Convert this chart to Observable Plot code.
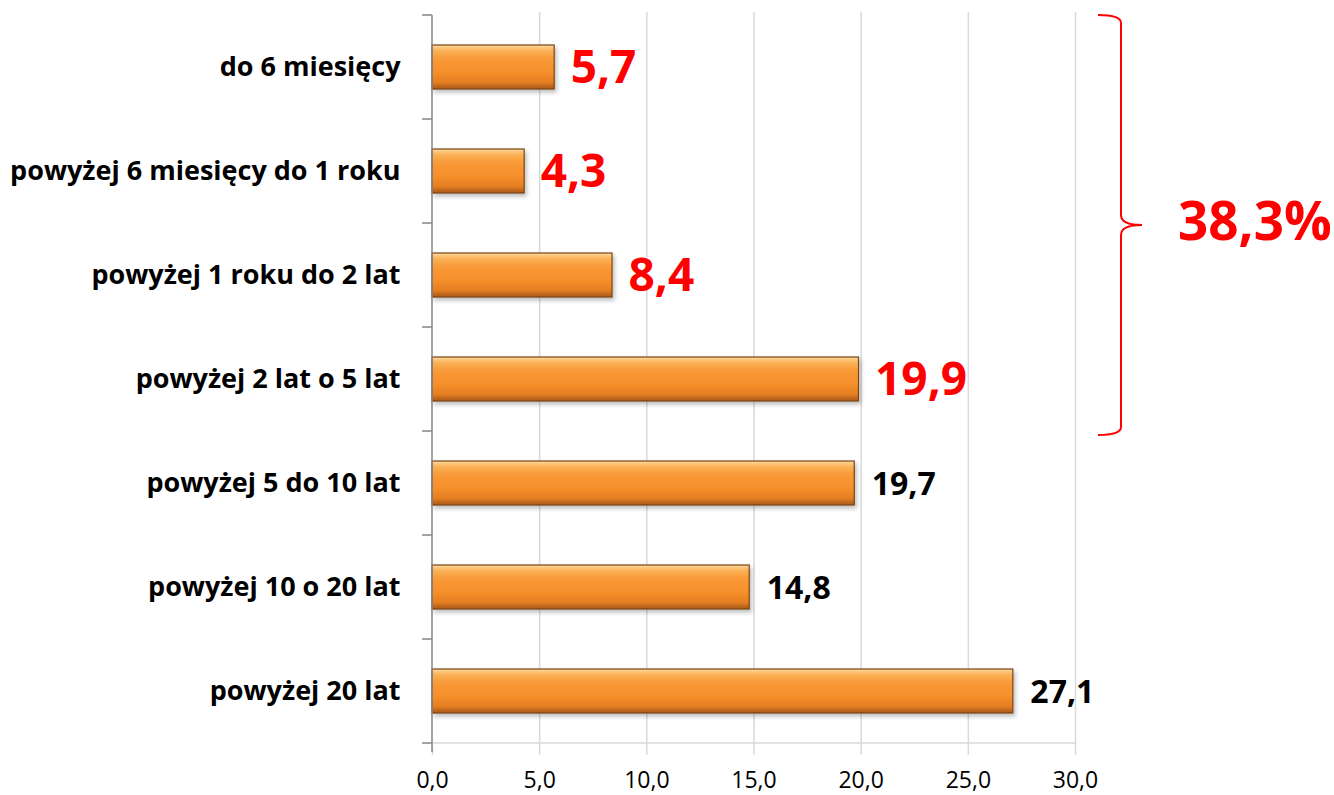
<!DOCTYPE html>
<html>
<head>
<meta charset="utf-8">
<script src="https://cdn.jsdelivr.net/npm/d3@7"></script>
<script src="https://cdn.jsdelivr.net/npm/@observablehq/plot@0.6"></script>
<style>
  html, body { margin: 0; padding: 0; background: #fff; }
  #chart { width: 1334px; height: 795px; }
</style>
</head>
<body>
<div id="chart"></div>
<script>
const categories = [
  "do 6 miesięcy",
  "powyżej 6 miesięcy do 1 roku",
  "powyżej 1 roku do 2 lat",
  "powyżej 2 lat o 5 lat",
  "powyżej 5 do 10 lat",
  "powyżej 10 o 20 lat",
  "powyżej 20 lat"
];
const values = [5.7, 4.3, 8.4, 19.9, 19.7, 14.8, 27.1];
const highlighted = [true, true, true, true, false, false, false];
const xTicks = [0, 5, 10, 15, 20, 25, 30];
const totalLabel = "38,3%";

const data = categories.map((c, i) => ({cat: c, value: values[i], hi: highlighted[i]}));
const fmt = v => v.toFixed(1).replace(".", ",");
const FONT = "'Open Sans', Lato, sans-serif";

const boundaryMark = (index, scales, vals, dims) => {
  const y = scales.y, x = scales.x;
  const step = y.step(), bw = y.bandwidth();
  const g = d3.create("svg:g");
  const first = y(categories[0]) - (step - bw) / 2;
  const x0 = x(0);
  const last = first + categories.length * step;
  g.append("line").attr("x1", x0).attr("x2", x(30)).attr("y1", last).attr("y2", last)
    .attr("stroke", "#d9d9d9").attr("stroke-width", 1.5);
  for (let i = 0; i <= categories.length; i++) {
    const yy = first + i * step;
    g.append("line").attr("x1", x0 - 10).attr("x2", x0).attr("y1", yy).attr("y2", yy)
      .attr("stroke", "#868686").attr("stroke-width", 1.5);
  }
  g.append("line").attr("x1", x0).attr("x2", x0).attr("y1", first).attr("y2", last + 9)
    .attr("stroke", "#868686").attr("stroke-width", 1.5);
  return g.node();
};

const braceMark = (index, scales) => {
  const y = scales.y, x = scales.x;
  const step = y.step(), bw = y.bandwidth();
  const nHi = highlighted.filter(Boolean).length;
  const top = y(categories[0]) - (step - bw) / 2;
  const bottom = top + nHi * step + 4;
  const mid = (top + bottom) / 2;
  const xL = x(30) + 23, xV = xL + 23, xP = xV + 21;
  const g = d3.create("svg:g");
  g.append("path")
    .attr("d", `M${xL},${top} Q${xV},${top} ${xV},${top + 8} L${xV},${mid - 10} Q${xV},${mid} ${xP},${mid} Q${xV},${mid} ${xV},${mid + 10} L${xV},${bottom - 8} Q${xV},${bottom} ${xL},${bottom}`)
    .attr("fill", "none").attr("stroke", "#ff0000").attr("stroke-width", 2);
  g.append("text").attr("x", xP + 36).attr("y", mid - 3).attr("dy", "0.34em")
    .attr("text-anchor", "start")
    .attr("fill", "#ff0000").attr("font-family", FONT).attr("font-weight", "bold")
    .attr("font-size", 53).text(totalLabel);
  return g.node();
};

const plot = Plot.plot({
  width: 1334,
  height: 795,
  marginLeft: 432,
  marginRight: 259,
  marginTop: 12,
  marginBottom: 49,
  style: {fontFamily: FONT, background: "#fff", overflow: "visible"},
  x: {domain: [0, 30], ticks: xTicks, tickFormat: fmt},
  y: {domain: categories, paddingInner: 0.58, paddingOuter: 0.29},
  marks: [
    Plot.gridX(xTicks.slice(1), {stroke: "#d9d9d9", strokeOpacity: 1, strokeWidth: 1.5}),
    Plot.axisX({ticks: xTicks, tickFormat: fmt, tickSize: 9, stroke: "#d9d9d9", strokeWidth: 1.5, tickPadding: 16, fontSize: 23, fill: "#000", label: null}),
    Plot.axisY({tickSize: 0, tickPadding: 32, fontSize: 27, fontWeight: "bold", fill: "#000", label: null}),
    Plot.barX(data, {x: "value", y: "cat", fill: "url(#barGrad)", stroke: "#7a4512", strokeWidth: 1.2}),
    boundaryMark,
    Plot.text(data.filter(d => d.hi), {x: "value", y: "cat", text: d => fmt(d.value), dx: 16, dy: 1, textAnchor: "start", fill: "#ff0000", fontSize: 46, fontWeight: "bold"}),
    Plot.text(data.filter(d => !d.hi), {x: "value", y: "cat", text: d => fmt(d.value), dx: 17, dy: 1, textAnchor: "start", fill: "#000", fontSize: 32, fontWeight: "bold"}),
    braceMark
  ]
});

const svg = d3.select(plot);
const defs = svg.insert("defs", ":first-child");
const grad = defs.append("linearGradient").attr("id", "barGrad").attr("x1", 0).attr("y1", 0).attr("x2", 0).attr("y2", 1);
[[0, "#fdd9a0"], [0.12, "#fbb45a"], [0.3, "#f99a38"], [0.6, "#f7912c"], [0.85, "#e47e22"], [1, "#a8591a"]]
  .forEach(([o, c]) => grad.append("stop").attr("offset", o).attr("stop-color", c));
const filt = defs.append("filter").attr("id", "shadow").attr("x", "-5%").attr("y", "-20%").attr("width", "115%").attr("height", "160%");
filt.append("feDropShadow").attr("dx", 2).attr("dy", 3).attr("stdDeviation", 2).attr("flood-color", "#000").attr("flood-opacity", 0.25);
svg.selectAll("rect").filter(function() { return d3.select(this).attr("fill") === "url(#barGrad)" || d3.select(this.parentNode).attr("fill") === "url(#barGrad)"; })
  .attr("filter", "url(#shadow)");

document.getElementById("chart").appendChild(plot);
</script>
</body>
</html>
